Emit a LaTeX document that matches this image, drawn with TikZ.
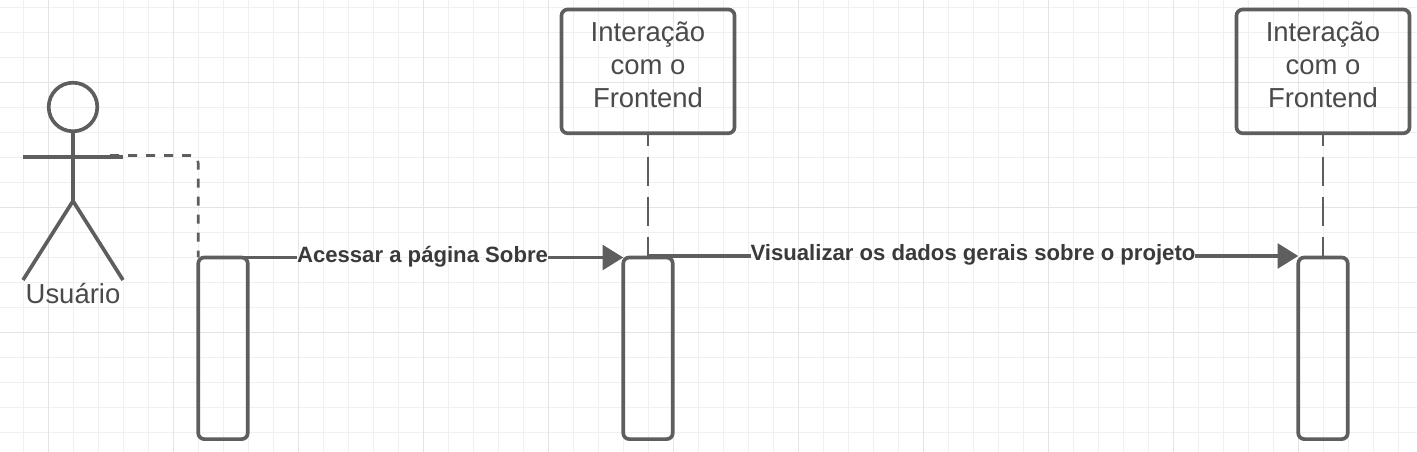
\documentclass[tikz,border=0pt]{standalone}
\usepackage{fontspec}
\setmainfont{Liberation Sans}
\usetikzlibrary{arrows.meta,positioning,calc}
\definecolor{linegray}{HTML}{5E5E5E}
\definecolor{textgray}{HTML}{4A4A4A}
\definecolor{msggray}{HTML}{3A3A3A}
\definecolor{gridminor}{HTML}{F0F0F0}
\definecolor{gridmajor}{HTML}{E4E4E4}
\tikzset{
    headbox/.style={draw=linegray, line width=2.75pt, rounded corners=4.5pt, minimum width=129.75pt, minimum height=92.75pt, inner sep=0pt, outer sep=0pt, align=center, text=textgray, font=\fontsize{20.6}{24.75}\selectfont},
    activebox/.style={draw=linegray, line width=2.75pt, rounded corners=4.5pt, minimum width=37.1pt, minimum height=136.2pt, inner sep=0pt, outer sep=0pt},
    msglabel/.style={text=msggray, inner sep=0pt, outer sep=0pt, font=\fontsize{16.6}{20}\selectfont\bfseries},
    msgline/.style={draw=linegray, line width=2.75pt},
    lifeline/.style={draw=linegray, line width=2pt, dash pattern=on 21.75pt off 8.25pt, dash phase=12.5pt},
    userline/.style={draw=linegray, line width=2pt, dash pattern=on 6.75pt off 6.75pt, rounded corners=6pt}
}
\begin{document}
\begin{tikzpicture}[x=0.75pt,y=-0.75pt]
    \useasboundingbox (0,0) rectangle (1417,452);
    \fill [white] (0,0) rectangle (1417,452);
    % grid
    \foreach \i in {0,...,56} \draw [gridminor, line width=0.75pt] ({23.3+25*\i},0) -- ({23.3+25*\i},452);
    \foreach \i in {0,...,17} \draw [gridminor, line width=0.75pt] (0,{7.5+25*\i}) -- (1417,{7.5+25*\i});
    \foreach \i in {0,...,11} \draw [gridmajor, line width=0.75pt] ({48.3+125*\i},0) -- ({48.3+125*\i},452);
    \foreach \i in {0,...,2} \draw [gridmajor, line width=0.75pt] (0,{82.5+125*\i}) -- (1417,{82.5+125*\i});

    % actor
    \coordinate (neck) at (73,131);
    \coordinate (hip) at (73,201);
    \coordinate (armL) at (23,157);
    \coordinate (armR) at (123,157);
    \coordinate (legL) at (23,280);
    \coordinate (legR) at (123,280);
    \coordinate (dashstart) at (110,155.5);
    \draw [linegray, line width=2.75pt] (73,107) circle (24.3);
    \draw [linegray, line width=2.75pt] (neck) -- (hip);
    \draw [linegray, line width=2.75pt] (armL) -- (armR);
    \draw [linegray, line width=2.75pt] (legL) -- (hip) -- (legR);
    \node [text=textgray, inner sep=0pt, font=\fontsize{20.6}{24.75}\selectfont] (user) at (73,294) {Usuário};

    % boxes
    \node [headbox] (frontA) at (648,71.4) {Interação\\com o\\Frontend\\[-15pt]};
    \node [headbox] (frontB) at (1323,71.4) {Interação\\com o\\Frontend\\[-15pt]};
    \node [activebox] (activeU) at (223,348.3) {};
    \node [activebox] (activeA) at (648,348.3) {};
    \node [activebox] (activeB) at (1323,348.3) {};

    % lifelines
    \draw [lifeline] (frontA.south) -- (activeA.north);
    \draw [lifeline] (frontB.south) -- (activeB.north);
    \draw [userline] (dashstart) -| (activeU.north west);

    % messages
    \node [msglabel] (msgA) at (422.5,257) {Acessar a página Sobre};
    \node [msglabel] (msgB) at (973,255) {Visualizar os dados gerais sobre o projeto};
    \coordinate (lineB) at (648,256);
    \draw [msgline] (activeU.north) -- (msgA.west |- activeU.north);
    \draw [msgline, -{Triangle[length=15.5pt,width=18.5pt]}] (msgA.east |- activeA.north) -- (activeA.north west);
    \draw [msgline] (lineB) -- (msgB.west |- lineB);
    \draw [msgline, -{Triangle[length=15.5pt,width=18.5pt]}] (msgB.east |- lineB) -- (activeB.west |- lineB);
\end{tikzpicture}
\end{document}
